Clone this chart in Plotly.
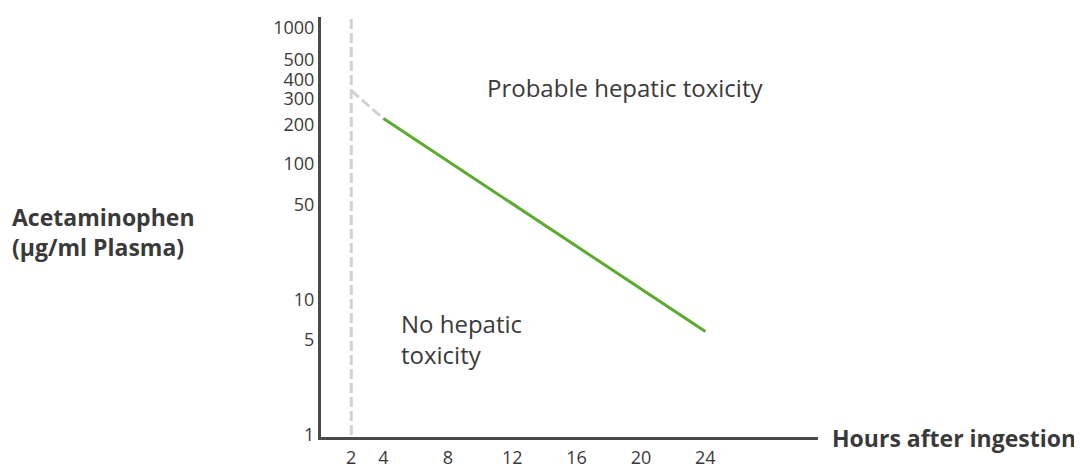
import plotly.graph_objects as go
import numpy as np

# Data
threshold_hours = [4, 24]
threshold_conc = [215, 5.8]
early_hours = [2, 4]
early_conc = [345, 215]
cutoff_hours = [2, 2]
cutoff_conc = [1, 1200]

y_tickvals = [1, 5, 10, 50, 100, 193, 300, 414, 580, 1000]
y_ticktext = ["1", "5", "10", "50", "100", "200", "300", "400", "500", "1000"]
x_tickvals = [2, 4, 8, 12, 16, 20, 24]

FONT = "Open Sans"
TXT = "#3a3a3a"
DASH = "10px,4px"

fig = go.Figure()
fig.add_trace(go.Scatter(x=cutoff_hours, y=cutoff_conc, mode="lines",
                         line=dict(color="#d2d2d2", width=3, dash=DASH),
                         showlegend=False, hoverinfo="skip"))
fig.add_trace(go.Scatter(x=early_hours, y=early_conc, mode="lines",
                         line=dict(color="#d2d2d2", width=3, dash=DASH),
                         showlegend=False, hoverinfo="skip"))
fig.add_trace(go.Scatter(x=threshold_hours, y=threshold_conc, mode="lines",
                         line=dict(color="#5aab2f", width=3),
                         showlegend=False))

fig.add_annotation(x=19, y=np.log10(367), text="Probable hepatic toxicity",
                   showarrow=False, xanchor="center", yanchor="middle",
                   font=dict(family=FONT, size=24, color=TXT))
fig.add_annotation(x=4.95, y=np.log10(5.1), text="No hepatic<br>toxicity",
                   showarrow=False, xanchor="left", yanchor="middle", align="left",
                   font=dict(family=FONT, size=24, color=TXT))
fig.add_annotation(xref="paper", yref="paper", x=-0.626, y=0.488,
                   text="<b>Acetaminophen<br>(µg/ml Plasma)</b>",
                   showarrow=False, xanchor="left", yanchor="middle", align="left",
                   font=dict(family=FONT, size=23, color=TXT))
fig.add_annotation(xref="paper", yref="paper", x=1.024, y=-0.002,
                   text="<b>Hours after ingestion</b>",
                   showarrow=False, xanchor="left", yanchor="middle",
                   font=dict(family=FONT, size=23, color=TXT))

fig.update_layout(
    width=1082, height=467,
    margin=dict(l=313, r=272, t=9, b=38, autoexpand=False),
    plot_bgcolor="white", paper_bgcolor="white",
    font=dict(family=FONT, color=TXT),
    xaxis=dict(range=[0.12, 31], tickvals=x_tickvals, showgrid=False, zeroline=False,
               showline=True, linecolor="#4a4a4a", linewidth=3, ticks="",
               ticklabelstandoff=2,
               automargin=False, tickfont=dict(size=18, color=TXT)),
    yaxis=dict(type="log", range=[-0.015, 3.081], tickvals=y_tickvals,
               ticktext=y_ticktext, showgrid=False, zeroline=False,
               showline=True, linecolor="#4a4a4a", linewidth=3, ticks="",
               automargin=False, tickfont=dict(size=18, color=TXT)),
)

fig.write_html("out.html")
